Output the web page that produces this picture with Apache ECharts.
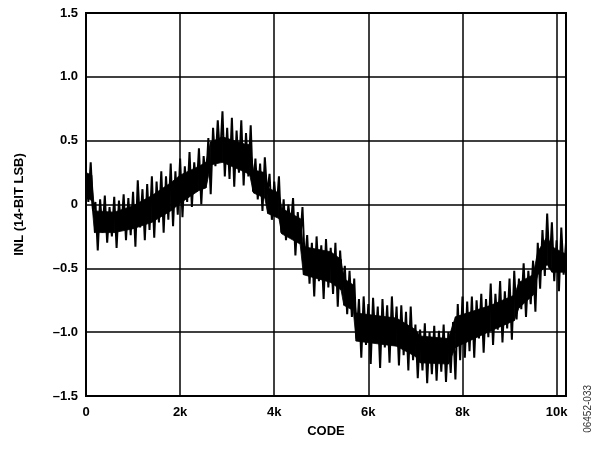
<!DOCTYPE html>
<html>
<head>
<meta charset="utf-8">
<script src="https://cdn.jsdelivr.net/npm/echarts@6/dist/echarts.min.js"></script>
<style>
  html, body { margin: 0; padding: 0; background: #fff; }
  #main { width: 606px; height: 453px; }
</style>
</head>
<body>
<div id="main"></div>
<script>
// code buckets, 100 codes apart; each bucket has an upper and a lower swing of the INL trace
const bucketCodes = []
for (let c = 0; c <= 10200; c += 100) bucketCodes.push(c)

const inlHigh = [
  0.22, 0.33, 0.02, 0.04, 0.07, -0.02, 0.06, 0.03, 0.08, 0.05,
  0.10, 0.19, 0.12, 0.16, 0.22, 0.18, 0.26, 0.22, 0.32, 0.26,
  0.36, 0.30, 0.41, 0.33, 0.44, 0.38, 0.52, 0.60, 0.66, 0.73,
  0.60, 0.68, 0.58, 0.66, 0.56, 0.62, 0.36, 0.32, 0.37, 0.24,
  0.18, 0.22, 0.04, 0.00, 0.05, -0.06, -0.02, -0.24, -0.30, -0.25,
  -0.32, -0.27, -0.34, -0.30, -0.36, -0.48, -0.52, -0.58, -0.74, -0.72,
  -0.78, -0.73, -0.80, -0.74, -0.79, -0.72, -0.80, -0.79, -0.84, -0.80,
  -0.94, -0.98, -0.93, -1.00, -0.95, -0.99, -0.94, -1.00, -0.92, -0.78,
  -0.72, -0.76, -0.72, -0.75, -0.70, -0.74, -0.62, -0.70, -0.60, -0.68,
  -0.58, -0.52, -0.58, -0.46, -0.52, -0.44, -0.30, -0.20, -0.07, -0.14,
  -0.28, -0.18, -0.30
]

const inlLow = [
  0.02, -0.05, -0.36, -0.22, -0.30, -0.25, -0.34, -0.20, -0.28, -0.24,
  -0.33, -0.18, -0.28, -0.20, -0.26, -0.14, -0.22, -0.12, -0.17, -0.08,
  -0.10, 0.02, -0.02, 0.10, 0.00, 0.16, 0.08, 0.30, 0.36, 0.22,
  0.20, 0.14, 0.25, 0.15, 0.22, 0.10, 0.04, -0.05, 0.08, -0.12,
  -0.05, -0.22, -0.28, -0.18, -0.40, -0.30, -0.46, -0.62, -0.72, -0.60,
  -0.74, -0.65, -0.70, -0.80, -0.66, -0.86, -0.88, -1.05, -1.20, -1.10,
  -1.25, -1.08, -1.28, -1.12, -1.24, -1.10, -1.26, -1.18, -1.30, -1.22,
  -1.36, -1.30, -1.40, -1.33, -1.38, -1.31, -1.39, -1.32, -1.37, -1.22,
  -1.20, -1.15, -1.20, -1.05, -1.16, -1.04, -1.10, -0.98, -1.08, -0.97,
  -1.06, -0.90, -0.82, -0.88, -0.78, -0.84, -0.66, -0.56, -0.50, -0.60,
  -0.68, -0.55, -0.62
]

// dense inner part of the noise band, with breakpoints at the visible steps
const coreCodes = [
  0, 120, 180, 600, 1000, 1400, 1800, 2000, 2400, 2550,
  2650, 2900, 3400, 3480, 3560, 3800, 3860, 4100, 4160, 4550,
  4620, 5200, 5420, 5480, 5680, 5740, 6600, 7000, 7100, 7700,
  7850, 8600, 9100, 9200, 9500, 9600, 9800, 9900, 10200
]

const coreTop = [
  0.25, 0.23, -0.05, -0.06, -0.01, 0.07, 0.17, 0.23, 0.30, 0.33,
  0.49, 0.53, 0.47, 0.47, 0.27, 0.25, 0.13, 0.09, -0.03, -0.11,
  -0.33, -0.37, -0.43, -0.58, -0.63, -0.85, -0.89, -0.98, -1.03, -1.05,
  -0.88, -0.79, -0.71, -0.61, -0.55, -0.37, -0.25, -0.33, -0.39
]

const coreBottom = [
  0.06, 0.03, -0.22, -0.22, -0.19, -0.14, -0.05, 0.01, 0.11, 0.13,
  0.31, 0.33, 0.25, 0.23, 0.09, 0.05, -0.07, -0.11, -0.23, -0.31,
  -0.55, -0.61, -0.67, -0.79, -0.83, -1.07, -1.11, -1.19, -1.24, -1.25,
  -1.12, -0.99, -0.91, -0.81, -0.71, -0.55, -0.47, -0.53, -0.53
]

const xTicks = [0, 2000, 4000, 6000, 8000, 10000]
const xTickLabels = ['0', '2k', '4k', '6k', '8k', '10k']

const trace = []
bucketCodes.forEach((c, i) => {
  trace.push([c, inlHigh[i]])
  trace.push([c + 50, inlLow[i]])
})

// one quad per core segment: [code, top, bottom, nextCode, nextTop, nextBottom]
const coreSegments = []
for (let i = 0; i < coreCodes.length - 1; i++) {
  coreSegments.push([coreCodes[i], coreTop[i], coreBottom[i], coreCodes[i + 1], coreTop[i + 1], coreBottom[i + 1]])
}

const font = '"Liberation Sans", Arial, sans-serif'

const chart = echarts.init(document.getElementById('main'))
chart.setOption({
  animation: false,
  backgroundColor: '#fff',
  grid: { left: 86, right: 40, top: 13, bottom: 57, show: true, borderColor: '#000', borderWidth: 2 },
  xAxis: {
    type: 'value',
    min: 0,
    max: 10200,
    interval: 2000,
    name: 'CODE',
    nameLocation: 'middle',
    nameGap: 29,
    nameTextStyle: { fontFamily: font, fontWeight: 'bold', fontSize: 13, color: '#000' },
    axisLine: { show: false },
    axisTick: { show: false },
    axisLabel: {
      margin: 10,
      fontFamily: font, fontWeight: 'bold', fontSize: 13, color: '#000',
      showMaxLabel: false,
      formatter: v => {
        const i = xTicks.indexOf(v)
        return i >= 0 ? xTickLabels[i] : ''
      }
    },
    splitLine: { lineStyle: { color: '#000', width: 1.5 } }
  },
  yAxis: {
    type: 'value',
    min: -1.5,
    max: 1.5,
    interval: 0.5,
    name: 'INL (14-BIT LSB)',
    nameLocation: 'middle',
    nameGap: 60,
    nameTextStyle: { fontFamily: font, fontWeight: 'bold', fontSize: 13, color: '#000' },
    axisLine: { show: false },
    axisTick: { show: false },
    axisLabel: {
      margin: 8,
      fontFamily: font, fontWeight: 'bold', fontSize: 13, color: '#000',
      formatter: v => v === 0 ? '0' : (v < 0 ? '\u2013' : '') + Math.abs(v).toFixed(1)
    },
    splitLine: { lineStyle: { color: '#000', width: 1.5 } }
  },
  graphic: [{
    type: 'text',
    left: 583,
    top: 385,
    rotation: Math.PI / 2,
    style: { text: '06452-033', fontFamily: font, fontSize: 10, fill: '#333' }
  }],
  series: [
    {
      type: 'custom',
      data: coreSegments,
      encode: { x: [0, 3], y: [1, 2, 4, 5] },
      silent: true,
      renderItem: (params, api) => {
        const p = [
          api.coord([api.value(0), api.value(1)]),
          api.coord([api.value(3), api.value(4)]),
          api.coord([api.value(3), api.value(5)]),
          api.coord([api.value(0), api.value(2)])
        ]
        return {
          type: 'polygon',
          shape: { points: p },
          style: { fill: '#000', stroke: '#000', lineWidth: 0.8 }
        }
      }
    },
    {
      type: 'line',
      data: trace,
      showSymbol: false,
      lineStyle: { color: '#000', width: 2 }
    }
  ]
})
</script>
</body>
</html>
